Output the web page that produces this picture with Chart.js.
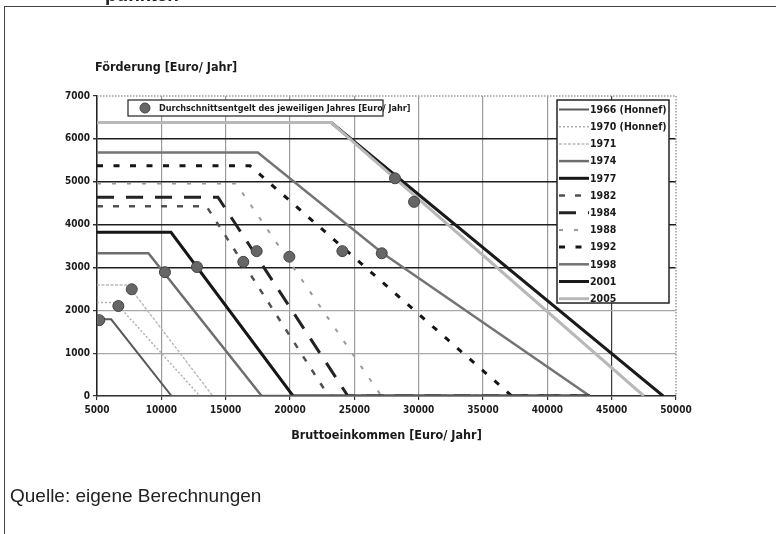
<!DOCTYPE html>
<html>
<head>
<meta charset="utf-8">
<script src="https://cdn.jsdelivr.net/npm/chart.js@4/dist/chart.umd.min.js"></script>
<style>
  html, body { margin: 0; padding: 0; background: #fff; }
  #page { position: relative; width: 776px; height: 534px; overflow: hidden; }
  #frame { position: absolute; left: 4px; top: 6px; width: 800px; height: 600px;
           border-top: 1.5px solid #444; border-left: 1.5px solid #444; }
  #chart { position: absolute; left: 0; top: 0; }
  .txt { position: absolute; white-space: nowrap; font-family: "Liberation Sans", Arial, sans-serif; color: #222; }
  #head { left: 105px; top: -15px; font-size: 19px; line-height: 19px; font-weight: bold; }
  #source { left: 10px; top: 486px; font-size: 19px; line-height: 19px; }
</style>
</head>
<body>
<div id="page">
  <div id="frame"></div>
  <canvas id="chart" width="776" height="534"></canvas>
  <div class="txt" id="head">punkten</div>
  <div class="txt" id="source">Quelle: eigene Berechnungen</div>
</div>
<script>
// Förderung je Jahrgang: Einkommen [Euro/Jahr] und Förderbetrag [Euro/Jahr]
const years = ['1966 (Honnef)', '1970 (Honnef)', '1971', '1974', '1977', '1982',
               '1984', '1988', '1992', '1998', '2001', '2005'];

const inc1966 = [5000, 6100, 10800, 43300];   const amt1966 = [1790, 1790, 0, 0];
const inc1970 = [5000, 6450, 13000, 43300];   const amt1970 = [2180, 2180, 0, 0];
const inc1971 = [5000, 7400, 14000, 43300];   const amt1971 = [2590, 2590, 0, 0];
const inc1974 = [5000, 9000, 17800, 43300];   const amt1974 = [3330, 3330, 0, 0];
const inc1977 = [5000, 10750, 20240, 43300];  const amt1977 = [3820, 3820, 0, 0];
const inc1982 = [5000, 13500, 23000, 43300];  const amt1982 = [4430, 4430, 0, 0];
const inc1984 = [5000, 14400, 24500, 43300];  const amt1984 = [4640, 4640, 0, 0];
const inc1988 = [5000, 15800, 27100, 43300];  const amt1988 = [4960, 4960, 0, 0];
const inc1992 = [5000, 16900, 37240, 43300];  const amt1992 = [5370, 5370, 0, 0];
const inc1998 = [5000, 17500, 27200, 43300];  const amt1998 = [5680, 5680, 3330, 0];
const inc2001 = [5000, 23200, 49000];         const amt2001 = [6380, 6380, 0];
const inc2005 = [5000, 23200, 47500];         const amt2005 = [6380, 6380, 0];

// Durchschnittsentgelt des jeweiligen Jahres
const avgIncome = [5180, 6660, 7700, 10280, 12770, 16370, 17410, 19950, 24070, 27130, 28160, 29640];
const avgAmount = [1770, 2100, 2490, 2890, 3010, 3130, 3380, 3250, 3380, 3330, 5080, 4530];

const xTicks = [5000, 10000, 15000, 20000, 25000, 30000, 35000, 40000, 45000, 50000];
const yTicks = [0, 1000, 2000, 3000, 4000, 5000, 6000, 7000];

const incomes = [inc1966, inc1970, inc1971, inc1974, inc1977, inc1982, inc1984, inc1988, inc1992, inc1998, inc2001, inc2005];
const amounts = [amt1966, amt1970, amt1971, amt1974, amt1977, amt1982, amt1984, amt1988, amt1992, amt1998, amt2001, amt2005];

// line look per year (colour, width, dash)
const styles = [
  { color: '#5a5a5a', width: 2,   dash: [] },
  { color: '#b0b0b0', width: 1.5, dash: [2, 2] },
  { color: '#bcbcbc', width: 1.5, dash: [3, 1.5] },
  { color: '#6e6e6e', width: 2.5, dash: [] },
  { color: '#161616', width: 3,   dash: [] },
  { color: '#505050', width: 2.5, dash: [6, 10] },
  { color: '#222222', width: 3,   dash: [17, 12] },
  { color: '#9a9a9a', width: 2,   dash: [4, 11] },
  { color: '#151515', width: 3,   dash: [6, 10.5] },
  { color: '#747474', width: 2.5, dash: [] },
  { color: '#1a1a1a', width: 3,   dash: [] },
  { color: '#b8b8b8', width: 3,   dash: [] }
];

const FONT = '"Liberation Sans Narrow", "DejaVu Sans Condensed", "Liberation Sans", sans-serif';

let datasets = [{
  type: 'scatter',
  label: 'Durchschnittsentgelt des jeweiligen Jahres [Euro/ Jahr]',
  data: avgIncome.map((x, i) => ({ x: x, y: avgAmount[i] })),
  showLine: false,
  pointRadius: 5.5,
  pointBackgroundColor: '#666',
  pointBorderColor: '#444',
  pointBorderWidth: 1,
  order: 0
}];

years.forEach(function (year, i) {
  datasets.push({
    type: 'line',
    label: year,
    data: incomes[i].map((x, k) => ({ x: x, y: amounts[i][k] })),
    borderColor: styles[i].color,
    borderWidth: styles[i].width,
    borderDash: styles[i].dash,
    pointRadius: 0,
    tension: 0,
    fill: false,
    order: year === '2005' ? 1 : 2
  });
});

const decor = {
  id: 'decor',
  beforeDatasetsDraw(chart) {
    // dotted border of plot area (top and right)
    const ctx = chart.ctx, a = chart.chartArea;
    ctx.save();
    ctx.strokeStyle = '#9a9a9a';
    ctx.lineWidth = 1.5;
    ctx.setLineDash([1.5, 1.5]);
    ctx.beginPath();
    ctx.moveTo(a.left, a.top);
    ctx.lineTo(a.right, a.top);
    ctx.lineTo(a.right, a.bottom);
    ctx.stroke();
    ctx.restore();
  },
  afterDraw(chart) {
    const ctx = chart.ctx;
    ctx.save();
    ctx.fillStyle = '#1a1a1a';
    ctx.textBaseline = 'middle';

    // axis titles
    ctx.font = 'bold 12.5px ' + FONT;
    ctx.textAlign = 'left';
    ctx.fillText('Förderung [Euro/ Jahr]', 95, 68);
    ctx.textAlign = 'center';
    ctx.fillText('Bruttoeinkommen [Euro/ Jahr]', (chart.chartArea.left + chart.chartArea.right) / 2, 436);

    // legend for the dots
    ctx.fillStyle = '#fff';
    ctx.fillRect(128, 100, 255, 16);
    ctx.strokeStyle = '#222';
    ctx.lineWidth = 1.2;
    ctx.strokeRect(128, 100, 255, 16);
    ctx.beginPath();
    ctx.arc(145, 108, 5, 0, Math.PI * 2);
    ctx.fillStyle = '#666';
    ctx.fill();
    ctx.strokeStyle = '#444';
    ctx.lineWidth = 1;
    ctx.stroke();
    ctx.fillStyle = '#1a1a1a';
    ctx.textAlign = 'left';
    ctx.font = 'bold 9px ' + FONT;
    ctx.fillText(datasets[0].label, 159, 108.5);

    // legend for the years
    ctx.fillStyle = '#fff';
    ctx.fillRect(557, 100, 112, 203);
    ctx.strokeStyle = '#222';
    ctx.lineWidth = 1.5;
    ctx.strokeRect(557, 100, 112, 203);
    ctx.font = 'bold 10.5px ' + FONT;
    years.forEach(function (year, i) {
      const y = 109.5 + i * 17.2;
      ctx.strokeStyle = styles[i].color;
      ctx.lineWidth = styles[i].width;
      ctx.setLineDash(styles[i].dash);
      ctx.beginPath();
      ctx.moveTo(559, y);
      ctx.lineTo(589, y);
      ctx.stroke();
      ctx.setLineDash([]);
      ctx.fillStyle = '#1a1a1a';
      ctx.fillText(year, 590, y + 0.5);
    });
    ctx.restore();
  }
};

const darkRows = [3000, 4000, 5000, 6000];

new Chart(document.getElementById('chart'), {
  type: 'line',
  data: { datasets: datasets },
  plugins: [decor],
  options: {
    responsive: false,
    animation: false,
    events: [],
    layout: { padding: { left: 0, top: 96, right: 100, bottom: 108 } },
    plugins: { legend: { display: false }, tooltip: { enabled: false } },
    scales: {
      x: {
        type: 'linear',
        min: 5000, max: 50000,
        afterBuildTicks: function (scale) { scale.ticks = xTicks.map(v => ({ value: v })); },
        afterFit: function (scale) { scale.height = 30; },
        ticks: {
          color: '#1a1a1a', padding: 4, maxRotation: 0,
          font: { family: FONT, size: 10, weight: 'bold' },
          callback: v => String(v)
        },
        grid: {
          color: function (c) {
            const v = c.tick ? c.tick.value : 0;
            if (v === 50000) return 'rgba(0,0,0,0)';
            return v === 45000 ? '#3a3a3a' : '#9c9c9c';
          },
          lineWidth: 1.2,
          tickLength: 4,
          tickColor: '#333'
        },
        border: { color: '#333', width: 1.5 }
      },
      y: {
        min: 0, max: 7000,
        afterBuildTicks: function (scale) { scale.ticks = yTicks.map(v => ({ value: v })); },
        afterFit: function (scale) { scale.width = 97; },
        ticks: {
          color: '#1a1a1a', padding: 3,
          font: { family: FONT, size: 10, weight: 'bold' },
          callback: v => String(v)
        },
        grid: {
          color: function (c) {
            const v = c.tick ? c.tick.value : 0;
            if (v === 7000) return 'rgba(0,0,0,0)';
            return darkRows.includes(v) ? '#1e1e1e' : '#a8a8a8';
          },
          lineWidth: function (c) {
            const v = c.tick ? c.tick.value : 0;
            return darkRows.includes(v) ? 1.5 : 1.2;
          },
          tickLength: 4,
          tickColor: '#333'
        },
        border: { color: '#222', width: 1.5 }
      }
    }
  }
});
</script>
</body>
</html>
